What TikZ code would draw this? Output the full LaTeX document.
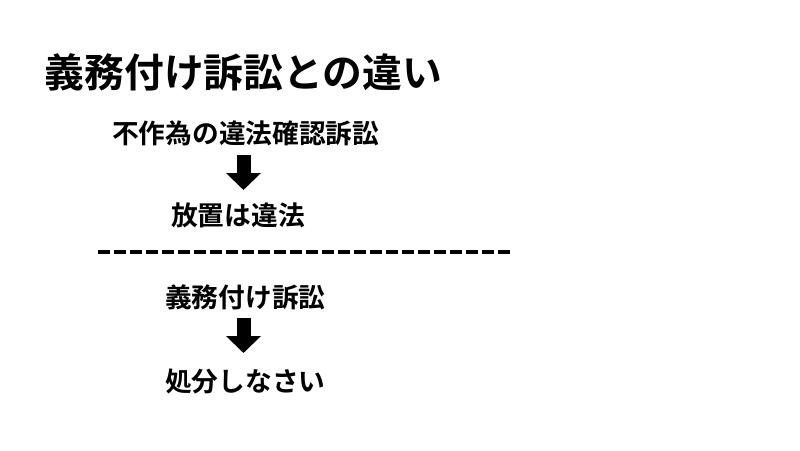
\documentclass[tikz,border=0pt]{standalone}
\usepackage{fontspec}
\setmainfont{Noto Sans CJK JP}[BoldFont={* Bold}]
\usetikzlibrary{arrows.meta}
\tikzset{
  ttl/.style={anchor=west, inner sep=0pt, font=\fontsize{39.8pt}{44pt}\selectfont\bfseries},
  txt/.style={anchor=west, inner sep=0pt, font=\fontsize{26.7pt}{30pt}\selectfont\bfseries},
  bigarrow/.style={line width=14pt, -{Triangle[length=17pt, width=34pt]}},
  sep/.style={line width=4pt, dash pattern=on 12pt off 4pt}
}
\begin{document}
\begin{tikzpicture}[x=1pt, y=-1pt]
\useasboundingbox (0,0) rectangle (800,450);
\node[ttl] (title) at (44.5,72) {義務付け訴訟との違い};
\node[txt] (l1) at (112,133) {不作為の違法確認訴訟};
\node[txt] (l2) at (171,215) {放置は違法};
\node[txt] (l3) at (165,297) {義務付け訴訟};
\node[txt] (l4) at (165,381) {処分しなさい};
\coordinate (a1s) at (243.5,155);
\coordinate (a1e) at (243.5,190);
\coordinate (a2s) at (243.5,318);
\coordinate (a2e) at (243.5,353);
\draw[bigarrow] (a1s) -- (a1e);
\draw[bigarrow] (a2s) -- (a2e);
\coordinate (d1) at (98,252);
\coordinate (d2) at (512,252);
\draw[sep] (d1) -- (d2);
\end{tikzpicture}
\end{document}
